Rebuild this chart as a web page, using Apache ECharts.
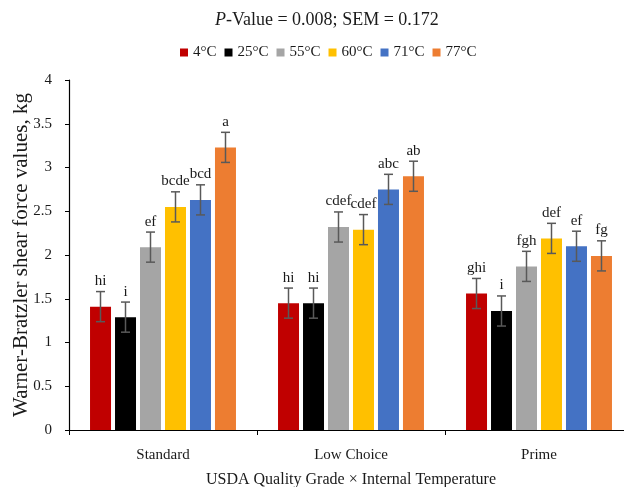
<!DOCTYPE html>
<html>
<head>
<meta charset="utf-8">
<script src="https://cdn.jsdelivr.net/npm/echarts@6/dist/echarts.min.js"></script>
<style>
  html, body { margin: 0; padding: 0; background: #ffffff; }
  #chart { width: 624px; height: 487px; }
</style>
</head>
<body>
<div id="chart"></div>
<script>
// USDA quality grades on the category axis
const grades = ['Standard', 'Low Choice', 'Prime'];
// Internal cooking temperatures (one series each)
const temps = ['4°C', '25°C', '55°C', '60°C', '71°C', '77°C'];

// Warner-Bratzler shear force means (kg) per grade, by temperature
const wbsf4  = [1.41, 1.45, 1.56];
const wbsf25 = [1.29, 1.45, 1.36];
const wbsf55 = [2.09, 2.32, 1.87];
const wbsf60 = [2.55, 2.29, 2.19];
const wbsf71 = [2.63, 2.75, 2.10];
const wbsf77 = [3.23, 2.90, 1.99];

// Mean separation letters, same order
const let4  = ['hi', 'hi', 'ghi'];
const let25 = ['i', 'hi', 'i'];
const let55 = ['ef', 'cdef', 'fgh'];
const let60 = ['bcde', 'cdef', 'def'];
const let71 = ['bcd', 'abc', 'ef'];
const let77 = ['a', 'ab', 'fg'];

// Pooled standard error of the mean (error bar half-height)
const sem = 0.172;

// Y axis ticks
const yMin = 0, yMax = 4, yStep = 0.5;

const values = [wbsf4, wbsf25, wbsf55, wbsf60, wbsf71, wbsf77];
const letters = [let4, let25, let55, let60, let71, let77];
const colors = ['#C00000', '#000000', '#A5A5A5', '#FFC000', '#4472C4', '#ED7D31'];

const FONT = '"Liberation Serif", "Times New Roman", serif';
const barW = 21;
const barGapPx = 4;

const barSeries = temps.map((t, i) => ({
  name: t,
  type: 'bar',
  data: values[i],
  barWidth: barW,
  barGap: (barGapPx / barW * 100).toFixed(1) + '%',
  itemStyle: { color: colors[i] },
  emphasis: { disabled: true },
  silent: true,
  z: 2
}));

const errSeries = temps.map((t, i) => ({
  name: 'err ' + t,
  type: 'custom',
  data: values[i].map((v, k) => [k, v]),
  z: 5,
  silent: true,
  renderItem: (params, api) => {
    const cat = api.value(0);
    const v = api.value(1);
    const off = (i - (temps.length - 1) / 2) * (barW + barGapPx);
    const cx = api.coord([cat, v])[0] + off;
    const yHi = api.coord([cat, v + sem])[1];
    const yLo = api.coord([cat, v - sem])[1];
    const ls = { stroke: '#595959', lineWidth: 1.5 };
    const cap = 4.5;
    return {
      type: 'group',
      children: [
        { type: 'line', shape: { x1: cx, y1: yHi, x2: cx, y2: yLo }, style: ls },
        { type: 'line', shape: { x1: cx - cap, y1: yHi, x2: cx + cap, y2: yHi }, style: ls },
        { type: 'line', shape: { x1: cx - cap, y1: yLo, x2: cx + cap, y2: yLo }, style: ls },
        {
          type: 'text',
          style: {
            text: letters[i][params.dataIndex],
            x: cx, y: yHi - 3,
            align: 'center', verticalAlign: 'bottom',
            font: '15px ' + FONT,
            fill: '#1a1a1a'
          }
        }
      ]
    };
  }
}));

const chart = echarts.init(document.getElementById('chart'), null, { renderer: 'canvas' });
chart.setOption({
  animation: false,
  backgroundColor: '#ffffff',
  textStyle: { fontFamily: FONT },
  title: {
    text: '{i|P}-Value = 0.008; SEM = 0.172',
    left: 210,
    top: 6,
    textStyle: {
      fontFamily: FONT, fontSize: 18, fontWeight: 'normal', color: '#1a1a1a',
      rich: { i: { fontFamily: FONT, fontSize: 18, fontStyle: 'italic', color: '#1a1a1a' } }
    }
  },
  legend: {
    data: temps,
    left: 175,
    top: 40,
    icon: 'rect',
    itemWidth: 8,
    itemHeight: 8,
    itemGap: 8,
    selectedMode: false,
    textStyle: { fontFamily: FONT, fontSize: 15, color: '#1a1a1a' }
  },
  grid: {
    left: 69, top: 80, width: 564, height: 350,
    containLabel: false,
    outerBoundsMode: 'none'
  },
  xAxis: {
    type: 'category',
    data: grades,
    name: 'USDA Quality Grade × Internal Temperature',
    nameLocation: 'middle',
    nameGap: 42,
    nameMoveOverlap: false,
    nameTextStyle: { fontFamily: FONT, fontSize: 16, color: '#1a1a1a' },
    axisLine: { lineStyle: { color: '#000000', width: 1.2 } },
    axisTick: { show: true, length: 5, lineStyle: { color: '#000000' } },
    axisLabel: { fontFamily: FONT, fontSize: 15, color: '#1a1a1a', margin: 18 }
  },
  yAxis: {
    type: 'value',
    min: yMin,
    max: yMax,
    interval: yStep,
    name: 'Warner-Bratzler shear force values, kg',
    nameLocation: 'middle',
    nameGap: 37,
    nameMoveOverlap: false,
    nameTextStyle: { fontFamily: FONT, fontSize: 21, color: '#1a1a1a' },
    axisLine: { show: true, lineStyle: { color: '#000000', width: 1.2 } },
    axisTick: { show: true, length: 4, lineStyle: { color: '#000000' } },
    splitLine: { show: false },
    axisLabel: { fontFamily: FONT, fontSize: 15, color: '#1a1a1a', margin: 17 }
  },
  series: barSeries.concat(errSeries)
});
</script>
</body>
</html>
